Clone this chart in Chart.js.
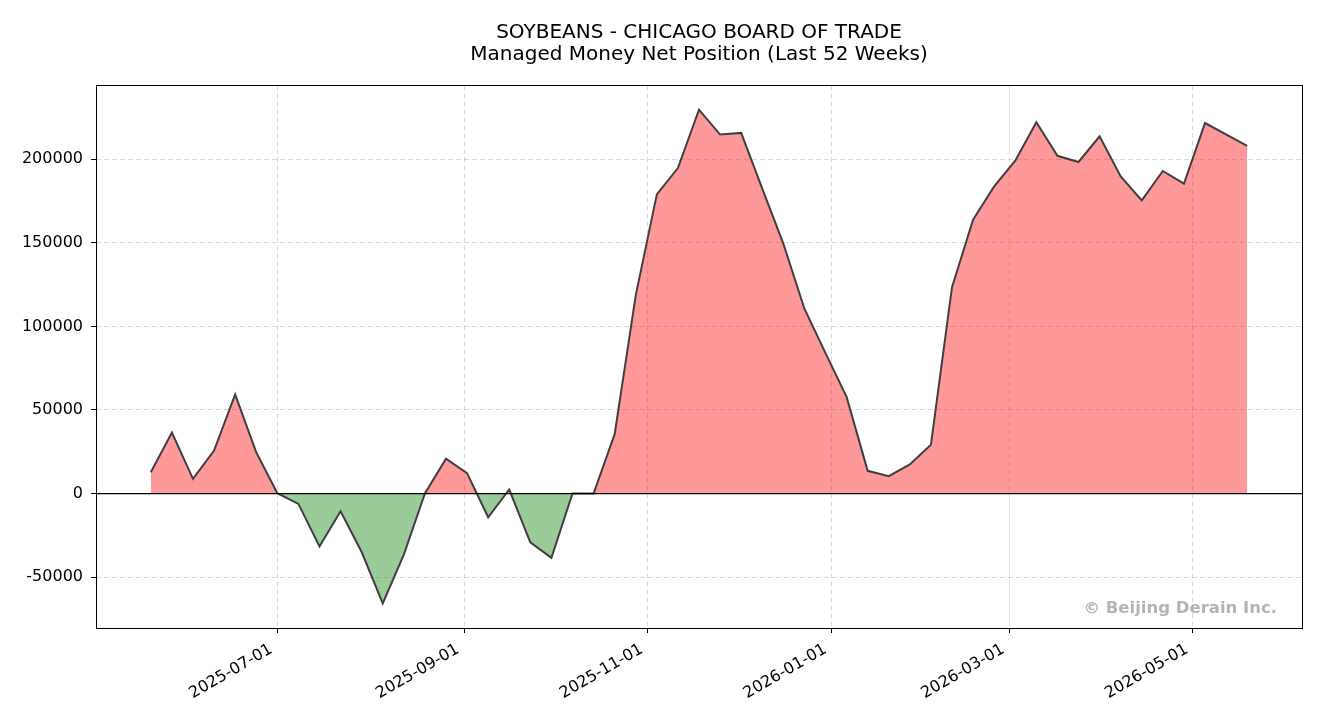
<!DOCTYPE html>
<html>
<head>
<meta charset="utf-8">
<script src="https://cdn.jsdelivr.net/npm/chart.js@4/dist/chart.umd.min.js"></script>
<style>
  html, body { margin: 0; padding: 0; background: #fff; }
  #wrap { width: 1320px; height: 720px; position: relative; }
</style>
</head>
<body>
<div id="wrap"><canvas id="c"></canvas></div>
<script>
// ---- Data (weekly COT report dates, Tuesdays) ----
const reportDates = [
  '2025-05-20','2025-05-27','2025-06-03','2025-06-10','2025-06-17','2025-06-24',
  '2025-07-01','2025-07-08','2025-07-15','2025-07-22','2025-07-29','2025-08-05',
  '2025-08-12','2025-08-19','2025-08-26','2025-09-02','2025-09-09','2025-09-16',
  '2025-09-23','2025-09-30','2025-10-07','2025-10-14','2025-10-21','2025-10-28',
  '2025-11-04','2025-11-11','2025-11-18','2025-11-25','2025-12-02','2025-12-09',
  '2025-12-16','2025-12-23','2025-12-30','2026-01-06','2026-01-13','2026-01-20',
  '2026-01-27','2026-02-03','2026-02-10','2026-02-17','2026-02-24','2026-03-03',
  '2026-03-10','2026-03-17','2026-03-24','2026-03-31','2026-04-07','2026-04-14',
  '2026-04-21','2026-04-28','2026-05-05','2026-05-19'
];
const netPosition = [
  12700, 36500, 8800, 25700, 59300, 24700,
  200, -6200, -31700, -10600, -35000, -65700,
  -36500, 0, 20800, 12200, -14200, 2400,
  -29200, -38500, 0, 0, 35500, 118600,
  179000, 194800, 229700, 214800, 215800, 182500,
  149500, 110600, 84000, 57800, 13600, 10400,
  17400, 29200, 123500, 163900, 183800, 199200,
  222200, 202100, 198400, 213800, 189800, 175400,
  193000, 185400, 221700, 208000
];
const xTickDates = ['2025-07-01','2025-09-01','2025-11-01','2026-01-01','2026-03-01','2026-05-01'];
const yTickValues = [-50000, 0, 50000, 100000, 150000, 200000];
const titleLines = ['SOYBEANS - CHICAGO BOARD OF TRADE', 'Managed Money Net Position (Last 52 Weeks)'];
const watermarkText = '\u00A9 Beijing Derain Inc.';

// ---- Helpers ----
const DAY = 86400000;
const toDay = s => Date.UTC(+s.slice(0,4), +s.slice(5,7) - 1, +s.slice(8,10)) / DAY;
const fmtDay = d => new Date(d * DAY).toISOString().slice(0, 10);

const points = reportDates.map((d, i) => ({ x: toDay(d), y: netPosition[i] }));
const xs = points.map(p => p.x), ys = points.map(p => p.y);
const xMinD = Math.min(...xs), xMaxD = Math.max(...xs);
const yMinD = Math.min(...ys), yMaxD = Math.max(...ys);
const xPad = (xMaxD - xMinD) * 0.05, yPad = (yMaxD - yMinD) * 0.05;

const FONT = "'DejaVu Sans', 'Liberation Sans', sans-serif";

const framePlugin = {
  id: 'frame',
  afterDatasetsDraw(chart) {
    const { ctx, chartArea: a, scales } = chart;
    const y0 = scales.y.getPixelForValue(0);
    ctx.save();
    ctx.strokeStyle = '#000';
    ctx.lineWidth = 1.2;
    ctx.beginPath();
    ctx.moveTo(a.left, y0);
    ctx.lineTo(a.right, y0);
    ctx.stroke();
    ctx.restore();
  },
  afterDraw(chart) {
    const { ctx, chartArea: a } = chart;
    ctx.save();
    ctx.strokeStyle = '#000';
    ctx.lineWidth = 1;
    ctx.strokeRect(Math.round(a.left) + 0.5, Math.round(a.top) + 0.5,
                   Math.round(a.right - a.left), Math.round(a.bottom - a.top));
    ctx.font = "bold 16.5px " + FONT;
    ctx.fillStyle = 'rgba(128,128,128,0.6)';
    ctx.textAlign = 'right';
    ctx.textBaseline = 'alphabetic';
    ctx.fillText(watermarkText, a.right - 25, a.bottom - 15);
    ctx.restore();
  }
};

new Chart(document.getElementById('c'), {
  type: 'line',
  data: {
    datasets: [{
      data: points,
      borderColor: '#3f3f3f',
      borderWidth: 2,
      pointRadius: 0,
      pointHoverRadius: 0,
      tension: 0,
      fill: { target: { value: 0 }, above: 'rgba(255,0,0,0.4)', below: 'rgba(0,128,0,0.4)' }
    }]
  },
  options: {
    responsive: true,
    maintainAspectRatio: false,
    animation: false,
    events: [],
    layout: { padding: { left: 0, right: 18, top: 0, bottom: 0 } },
    plugins: {
      legend: { display: false },
      tooltip: { enabled: false },
      title: {
        display: true,
        fullSize: false,
        text: titleLines,
        color: '#000',
        font: { family: FONT, size: 20, weight: 'normal', lineHeight: 22 / 20 },
        padding: { top: 22, bottom: 19 }
      }
    },
    scales: {
      x: {
        type: 'linear',
        min: xMinD - xPad,
        max: xMaxD + xPad,
        afterFit(s) { s.height = 92; },
        afterBuildTicks(s) { s.ticks = xTickDates.map(d => ({ value: toDay(d) })); },
        ticks: {
          callback: v => fmtDay(v),
          color: '#000',
          font: { family: FONT, size: 16 },
          minRotation: 30,
          maxRotation: 30,
          autoSkip: false,
          padding: 7,
          labelOffset: -6
        },
        grid: { color: 'rgba(0,0,0,0.14)', lineWidth: 1, tickColor: '#000', tickLength: 5, tickBorderDash: [] },
        border: { display: false, dash: [5, 3] }
      },
      y: {
        type: 'linear',
        min: yMinD - yPad,
        max: yMaxD + yPad,
        afterFit(s) { s.width = 96; },
        afterBuildTicks(s) { s.ticks = yTickValues.map(v => ({ value: v })); },
        ticks: {
          callback: v => String(v),
          color: '#000',
          font: { family: FONT, size: 16 },
          padding: 8
        },
        grid: { color: 'rgba(0,0,0,0.14)', lineWidth: 1, tickColor: '#000', tickLength: 5, tickBorderDash: [] },
        border: { display: false, dash: [5, 3] }
      }
    }
  },
  plugins: [framePlugin]
});
</script>
</body>
</html>
